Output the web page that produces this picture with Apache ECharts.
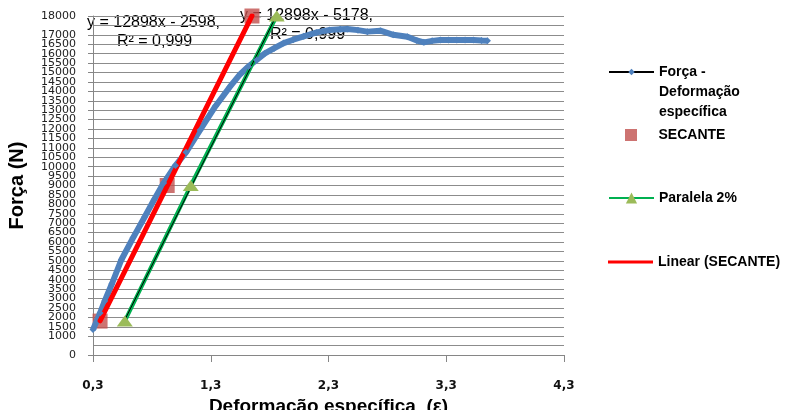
<!DOCTYPE html>
<html>
<head>
<meta charset="utf-8">
<script src="https://cdn.jsdelivr.net/npm/echarts@6/dist/echarts.min.js"></script>
<style>
html, body { margin: 0; padding: 0; background: #fff; }
#chart { width: 789px; height: 410px; }
</style>
</head>
<body>
<div id="chart"></div>
<script>
// Força x Deformação específica
var curveX = [0.30, 0.36, 0.40, 0.46, 0.54, 0.64, 0.74, 0.82, 0.90, 1.00, 1.09, 1.21, 1.34, 1.46, 1.55, 1.62, 1.69, 1.76, 1.84, 1.92, 2.00, 2.09, 2.20, 2.31, 2.40, 2.46, 2.55, 2.63, 2.74, 2.85, 2.97, 3.05, 3.11, 3.18, 3.25, 3.32, 3.39, 3.46, 3.53, 3.60, 3.65];
var curveY = [1350, 2230, 2870, 3770, 5045, 6220, 7345, 8260, 9130, 10060, 10760, 11950, 13210, 14220, 14910, 15320, 15670, 16020, 16290, 16560, 16740, 16920, 17130, 17260, 17300, 17310, 17250, 17170, 17220, 17000, 16900, 16700, 16600, 16680, 16730, 16720, 16730, 16720, 16730, 16700, 16690];

// SECANTE
var secX = [0.36, 0.93, 1.65];
var secY = [1800, 9000, 18000];

// Paralela 2%
var parX = [0.57, 1.13, 1.86];
var parY = [1800, 9000, 18000];

var nomeCurva = 'Força - Deformação específica';

function pares(xs, ys) {
    return xs.map(function (x, i) { return [x, ys[i]]; });
}

// linha de tendência (mínimos quadrados) entre o primeiro e o último ponto
function tendencia(xs, ys) {
    var n = xs.length, sx = 0, sy = 0, sxx = 0, sxy = 0;
    for (var i = 0; i < n; i++) {
        sx += xs[i]; sy += ys[i]; sxx += xs[i] * xs[i]; sxy += xs[i] * ys[i];
    }
    var a = (n * sxy - sx * sy) / (n * sxx - sx * sx);
    var b = (sy - a * sx) / n;
    var x0 = Math.min.apply(null, xs), x1 = Math.max.apply(null, xs);
    return [[x0, a * x0 + b], [x1, a * x1 + b]];
}

var myChart = echarts.init(document.getElementById('chart'));

var fonteLegenda = {
    fontFamily: 'Liberation Sans',
    fontSize: 14,
    fontWeight: 'bold',
    color: '#000',
    lineHeight: 16
};

var option = {
    animation: false,
    grid: { left: 93, right: 225, top: 16, bottom: 55, outerBoundsMode: 'none', containLabel: false },
    legend: [
        {
            left: 608, top: 22, padding: 0, orient: 'vertical',
            itemWidth: 45, itemHeight: 8,
            data: [{ name: nomeCurva, itemStyle: { color: '#4f81bd' }, lineStyle: { color: '#000', width: 2 } }],
            // duas linhas vazias antes para o ícone ficar alinhado com "Força -"
            formatter: function () { return '\n\nForça -\nDeformação\nespecífica'; },
            textStyle: Object.assign({}, fonteLegenda, { lineHeight: 20 })
        },
        {
            left: 625, top: 127, padding: 0,
            itemWidth: 45, itemHeight: 12, symbolKeepAspect: true,
            data: [{ name: 'SECANTE', icon: 'path://M0,0h10v10h-10z', itemStyle: { color: '#c0504d' } }],
            textStyle: fonteLegenda
        },
        {
            left: 608, top: 190, padding: 0,
            itemWidth: 45, itemHeight: 14,
            data: [{ name: 'Paralela 2%', itemStyle: { color: '#9bbb59' }, lineStyle: { color: '#00b050', width: 2 } }],
            textStyle: fonteLegenda
        },
        {
            left: 608, top: 254, padding: 0,
            itemWidth: 45, itemHeight: 3, symbolKeepAspect: false,
            data: [{ name: 'Linear (SECANTE)', icon: 'rect', itemStyle: { color: '#ff0000' } }],
            textStyle: fonteLegenda
        }
    ],
    xAxis: {
        type: 'value',
        min: 0.3,
        max: 4.3,
        interval: 1,
        name: 'Deformação específica  (ε)',
        nameLocation: 'middle',
        nameGap: 38,
        nameTextStyle: { fontFamily: 'Liberation Sans', fontSize: 19, fontWeight: 'bold', color: '#000' },
        axisLine: { lineStyle: { color: '#868686' } },
        axisTick: { length: 7, lineStyle: { color: '#868686' } },
        splitLine: { show: false },
        axisLabel: {
            margin: 25,
            fontFamily: 'DejaVu Sans',
            fontSize: 12,
            fontWeight: 'bold',
            color: '#111',
            formatter: function (v) { return v.toFixed(1).replace('.', ','); }
        }
    },
    yAxis: {
        type: 'value',
        min: 0,
        max: 18000,
        interval: 500,
        name: 'Força (N)',
        nameLocation: 'middle',
        nameGap: 66,
        nameTextStyle: { fontFamily: 'Liberation Sans', fontSize: 20, fontWeight: 'bold', color: '#000' },
        axisLine: { show: true, lineStyle: { color: '#868686' } },
        axisTick: { show: true, length: 5, lineStyle: { color: '#868686' } },
        splitLine: { lineStyle: { color: '#8c8c8c' } },
        axisLabel: {
            margin: 17,
            minMargin: 0,
            fontFamily: 'DejaVu Sans',
            fontSize: 8,
            lineHeight: 8,
            color: '#222',
            showMinLabel: true,
            showMaxLabel: true,
            formatter: function (v) { return '{n|' + v + '}'; },
            rich: {
                n: { fontFamily: 'DejaVu Sans', fontSize: 11, lineHeight: 8, color: '#222' }
            }
        }
    },
    graphic: [
        { type: 'text', style: { x: 87, y: 23, text: 'y = 12898x - 2598,', font: '16px "Liberation Sans"', fill: '#000', verticalAlign: 'middle' } },
        { type: 'text', style: { x: 117, y: 42, text: 'R² = 0,999', font: '16px "Liberation Sans"', fill: '#000', verticalAlign: 'middle' } },
        { type: 'text', style: { x: 240, y: 16, text: 'y = 12898x - 5178,', font: '16px "Liberation Sans"', fill: '#000', verticalAlign: 'middle' } },
        { type: 'text', style: { x: 270, y: 35, text: 'R² = 0,999', font: '16px "Liberation Sans"', fill: '#000', verticalAlign: 'middle' } }
    ],
    series: [
        {
            name: nomeCurva,
            type: 'line',
            data: pares(curveX, curveY),
            symbol: 'diamond',
            symbolSize: 7,
            showAllSymbol: true,
            itemStyle: { color: '#4f81bd' },
            lineStyle: { color: '#4f81bd', width: 6 }
        },
        {
            name: 'SECANTE',
            type: 'scatter',
            data: pares(secX, secY),
            symbol: 'rect',
            symbolSize: 15,
            itemStyle: { color: '#c0504d' }
        },
        {
            name: 'Paralela 2%',
            type: 'line',
            data: pares(parX, parY),
            symbol: 'triangle',
            symbolSize: [16, 11],
            itemStyle: { color: '#9bbb59' },
            lineStyle: { color: '#00b050', width: 4 }
        },
        {
            name: 'Linear (Paralela 2%)',
            type: 'line',
            data: tendencia(parX, parY),
            symbol: 'none',
            lineStyle: { color: '#000', width: 1 }
        },
        {
            name: 'Linear (SECANTE)',
            type: 'line',
            data: tendencia(secX, secY),
            symbol: 'none',
            lineStyle: { color: '#ff0000', width: 5, cap: 'round' }
        }
    ]
};

myChart.setOption(option);
</script>
</body>
</html>
